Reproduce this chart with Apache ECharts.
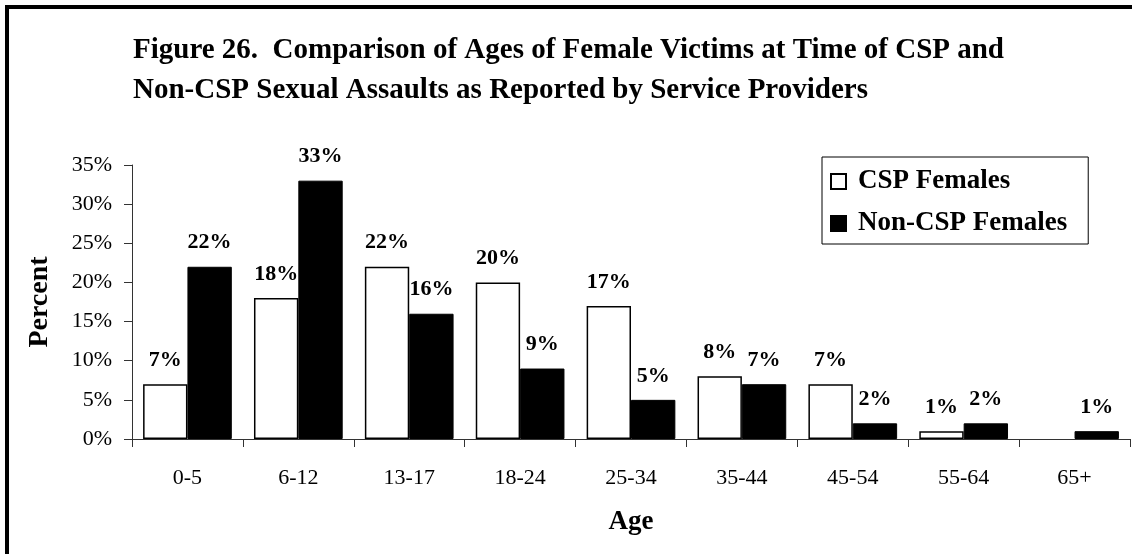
<!DOCTYPE html>
<html>
<head>
<meta charset="utf-8">
<script src="https://cdn.jsdelivr.net/npm/echarts@6/dist/echarts.min.js"></script>
<style>
  html, body { margin: 0; padding: 0; background: #fff; }
  #chart { width: 1132px; height: 554px; }
</style>
</head>
<body>
<div id="chart"></div>
<script>
  // age groups and percentages
  var ageGroups = ["0-5", "6-12", "13-17", "18-24", "25-34", "35-44", "45-54", "55-64", "65+"];
  var cspFemales = [7, 18, 22, 20, 17, 8, 7, 1, null];
  var nonCspFemales = [22, 33, 16, 9, 5, 7, 2, 2, 1];
  var yTicks = [0, 5, 10, 15, 20, 25, 30, 35];

  var serif = "Liberation Serif";
  var myChart = echarts.init(document.getElementById("chart"));

  var labelStyle = {
    show: true,
    position: "top",
    distance: 13,
    color: "#000",
    fontFamily: serif,
    fontWeight: "bold",
    fontSize: 22,
    formatter: function (p) {
      return p.value + "%";
    },
  };

  var options = {
    animation: false,
    backgroundColor: "#fff",
    textStyle: { fontFamily: serif, color: "#000" },
    title: {
      text: "Figure 26.  Comparison of Ages of Female Victims at Time of CSP and\nNon-CSP Sexual Assaults as Reported by Service Providers",
      left: 128,
      top: 26,
      textStyle: {
        fontFamily: serif,
        fontWeight: "bold",
        fontSize: 29,
        lineHeight: 40,
        color: "#000",
      },
    },
    legend: {
      orient: "vertical",
      left: 822,
      top: 157,
      padding: [11, 21, 7, 8],
      itemGap: 15,
      itemWidth: 15,
      itemHeight: 15,
      icon: "rect",
      borderColor: "#000",
      borderWidth: 1,
      textStyle: {
        fontFamily: serif,
        fontWeight: "bold",
        fontSize: 27,
        color: "#000",
        padding: [0, 0, 0, 7],
      },
      data: ["CSP Females", "Non-CSP Females"],
    },
    grid: {
      left: 132,
      right: 2,
      top: 165,
      bottom: 115,
    },
    xAxis: {
      type: "category",
      data: ageGroups,
      name: "Age",
      nameLocation: "middle",
      nameGap: 70,
      nameTextStyle: { fontFamily: serif, fontWeight: "bold", fontSize: 27, color: "#000" },
      axisLine: { lineStyle: { color: "#333", width: 1 } },
      axisTick: { show: true, length: 8, lineStyle: { color: "#333" } },
      axisLabel: { margin: 28, fontFamily: serif, fontSize: 22, color: "#000" },
    },
    yAxis: {
      type: "value",
      min: yTicks[0],
      max: yTicks[yTicks.length - 1],
      interval: 5,
      name: "Percent",
      nameLocation: "middle",
      nameGap: 78,
      nameTextStyle: { fontFamily: serif, fontWeight: "bold", fontSize: 28, color: "#000" },
      axisLine: { show: true, lineStyle: { color: "#333", width: 1 } },
      axisTick: { show: true, length: 8, lineStyle: { color: "#333" } },
      splitLine: { show: false },
      axisLabel: {
        margin: 20,
        fontFamily: serif,
        fontSize: 22,
        color: "#000",
        formatter: "{value}%",
      },
    },
    series: [
      {
        name: "CSP Females",
        type: "bar",
        data: cspFemales,
        barGap: "0%",
        barCategoryGap: "20%",
        itemStyle: { color: "#fff", borderColor: "#000", borderWidth: 1.5 },
        label: labelStyle,
      },
      {
        name: "Non-CSP Females",
        type: "bar",
        data: nonCspFemales,
        barGap: "0%",
        barCategoryGap: "20%",
        itemStyle: { color: "#000", borderColor: "#000", borderWidth: 1 },
        label: labelStyle,
      },
    ],
    graphic: [
      {
        type: "rect",
        shape: { x: 7, y: 7, width: 1300, height: 1000 },
        style: { fill: "none", stroke: "#000", lineWidth: 4 },
        silent: true,
      },
    ],
  };

  myChart.setOption(options);
  window.addEventListener("resize", function () {
    myChart.resize();
  });
</script>
</body>
</html>
